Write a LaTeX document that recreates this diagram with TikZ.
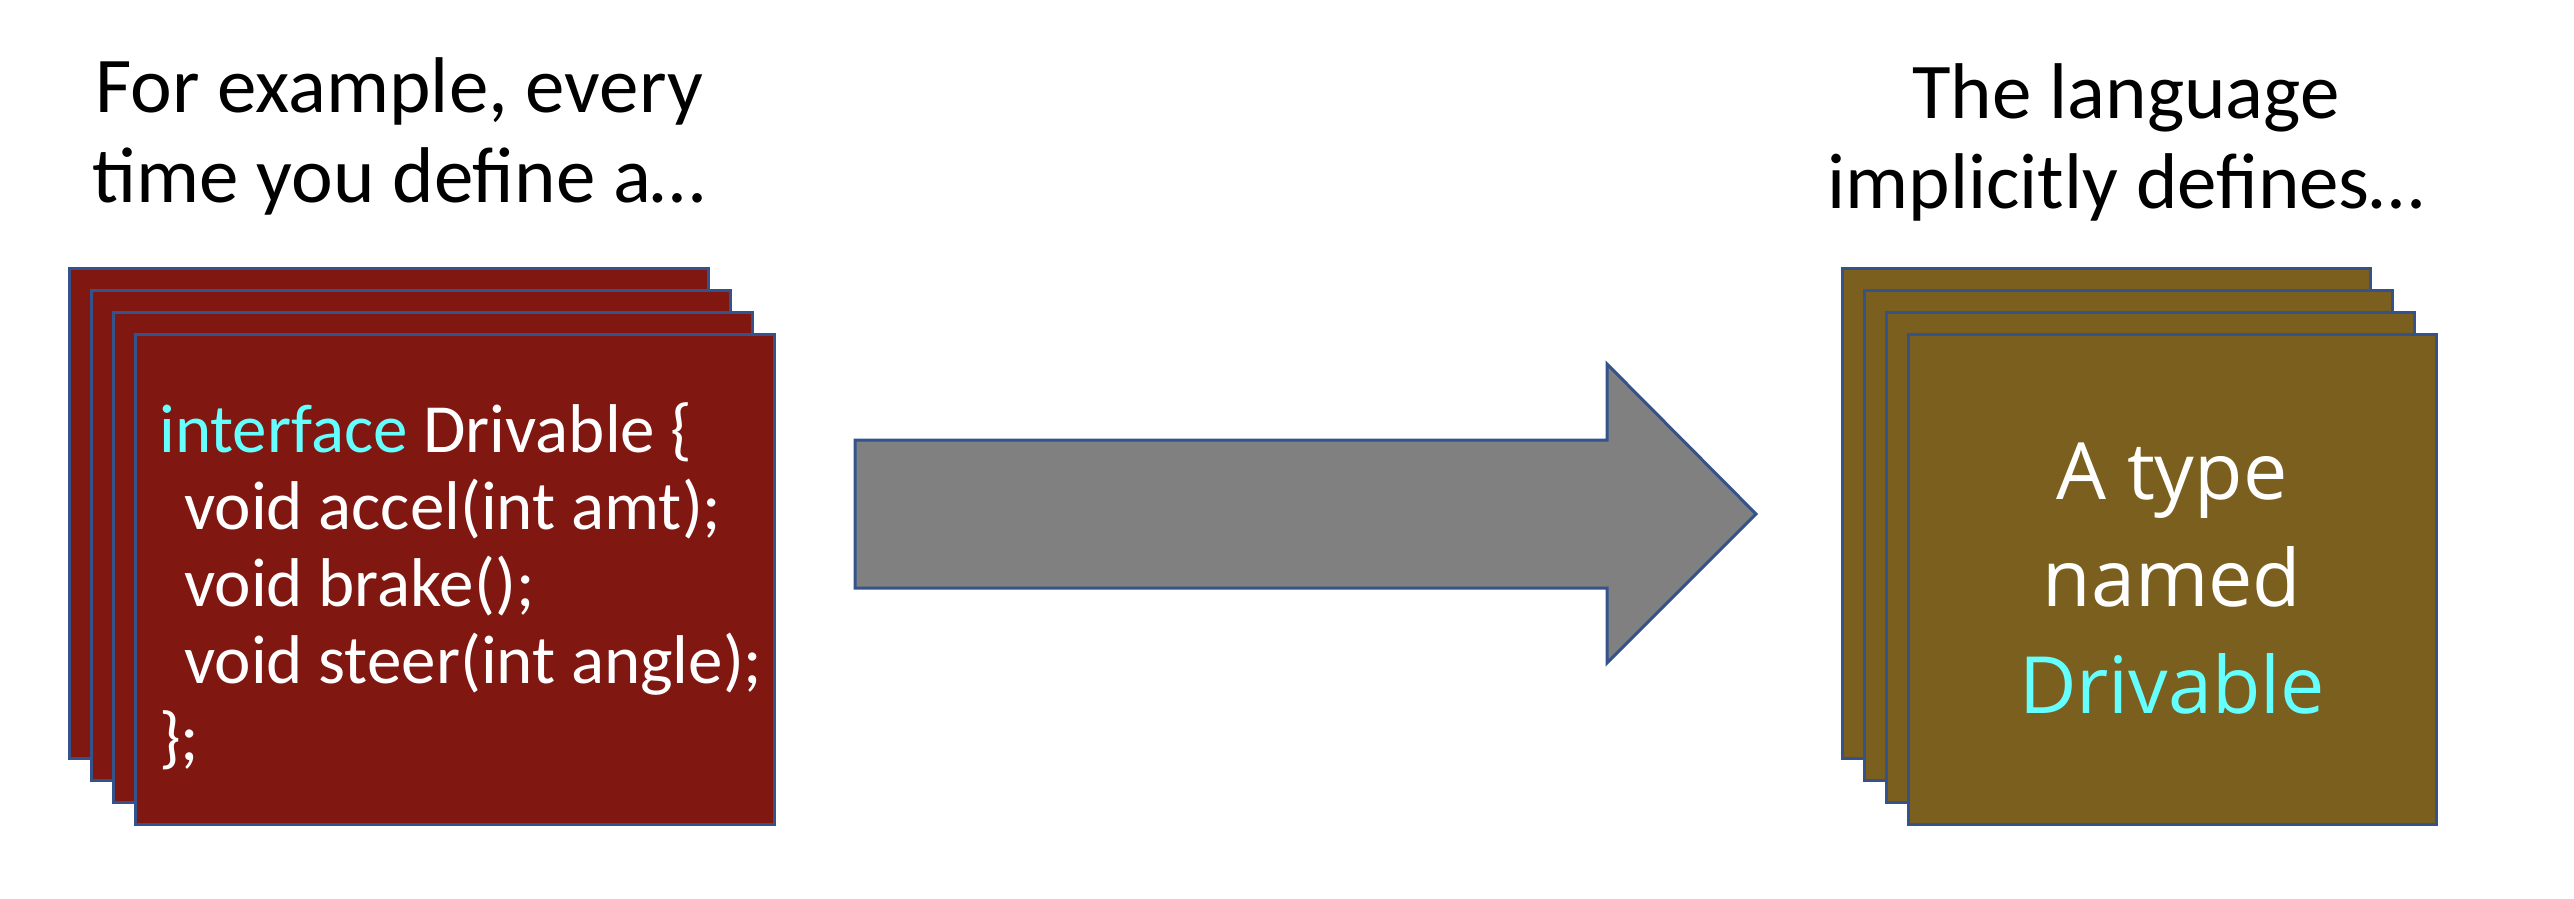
\documentclass[tikz,border=0pt]{standalone}
\usepackage{fontspec}
\setmainfont{Carlito}
\newfontfamily\labelfont{Open Sans}
\begin{document}
\begin{tikzpicture}[x=1pt,y=-1pt,
  card/.style={draw=cardedge, line width=3pt, inner sep=0pt, outer sep=0pt,
               anchor=north west, minimum height=490pt},
  codecard/.style={card, fill=codered, minimum width=639pt},
  typecard/.style={card, fill=typebrown, minimum width=528pt},
  heading/.style={align=center, font=\fontsize{79}{90}\selectfont, text=black},
  blockarrow/.style={draw=cardedge, line width=3pt, fill=arrowgray, line join=miter}
]
\definecolor{codered}{RGB}{128,23,17}
\definecolor{typebrown}{RGB}{123,95,31}
\definecolor{cardedge}{RGB}{52,82,140}
\definecolor{arrowgray}{RGB}{128,128,128}
\definecolor{keyword}{RGB}{102,255,255}

\useasboundingbox (0,0) rectangle (2574,898);

% headings
\node[heading] (lefthead) at (399,136) {For example, every\\time you define a\ldots};
\node[heading] (righthead) at (2126,142) {The language\\implicitly defines\ldots};

% stack of interface cards
\node[codecard] (l1) at (69,268) {};
\node[codecard] (l2) at (91,290) {};
\node[codecard] (l3) at (113,312) {};
\node[codecard] (l4) at (135,334) {};
\node[anchor=west, align=left, text=white, font=\fontsize{69}{77}\selectfont,
      inner sep=0pt] (code) at (159,586)
  {\textcolor{keyword}{interface} Drivable \{\\
   \hspace*{25pt}void accel(int amt);\\
   \hspace*{25pt}void brake();\\
   \hspace*{25pt}void steer(int angle);\\
   \};};

% block arrow
\draw[blockarrow] (855,440) -- (1607,440) -- (1607,364) -- (1756,514)
  -- (1607,663) -- (1607,588) -- (855,588) -- cycle;

% stack of type cards
\node[typecard] (r1) at (1842,268) {};
\node[typecard] (r2) at (1864,290) {};
\node[typecard] (r3) at (1886,312) {};
\node[typecard] (r4) at (1908,334) {};
\node[align=center, text=white, font=\labelfont\fontsize{79}{107}\selectfont,
      inner sep=0pt] (typename) at (r4.center)
  {A type\\named\\\textcolor{keyword}{Drivable}};
\end{tikzpicture}
\end{document}
